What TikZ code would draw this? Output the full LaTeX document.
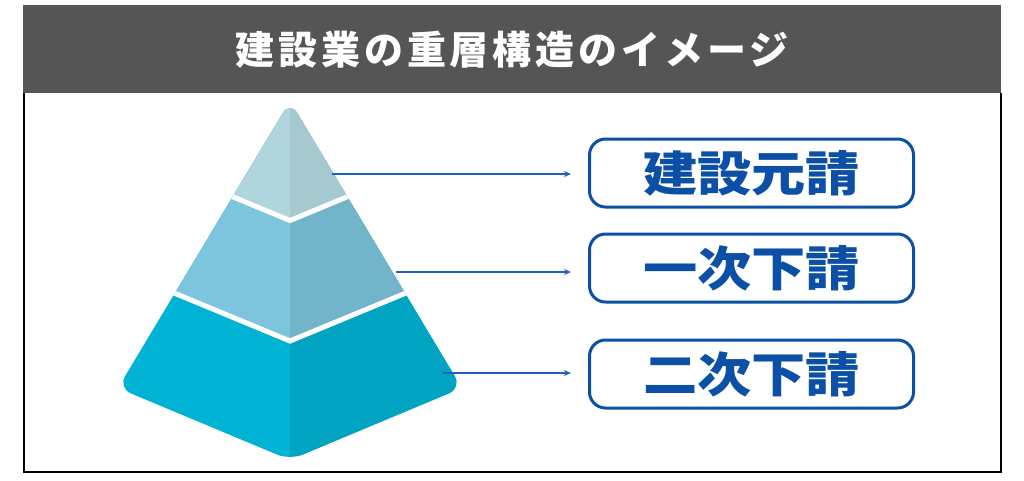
\documentclass[tikz,border=0pt]{standalone}
\usepackage{fontspec}
\newfontfamily\titlefont{Noto Sans CJK JP}[LetterSpace=10]
\newfontfamily\boxfont{Noto Sans CJK JP}[FakeStretch=1.13]
\usetikzlibrary{positioning, arrows.meta}

\definecolor{headgray}{RGB}{85,85,85}
\definecolor{kblue}{RGB}{11,80,166}
\definecolor{lblue}{RGB}{32,96,192}
\definecolor{topl}{RGB}{176,213,220}
\definecolor{topr}{RGB}{166,201,207}
\definecolor{midl}{RGB}{124,197,220}
\definecolor{midr}{RGB}{114,180,202}
\definecolor{botl}{RGB}{0,178,212}
\definecolor{botr}{RGB}{0,163,194}

\begin{document}
\begin{tikzpicture}[%
  x = 1pt, y = -1pt,
  head/.style = {text=white, inner sep=0pt,
                 font=\titlefont\bfseries\fontsize{39pt}{41pt}\selectfont},
  lvl/.style =  {rectangle, rounded corners=16pt, draw=kblue, line width=3pt,
                 minimum width=324pt, minimum height=68pt, inner sep=0pt,
                 text=kblue,
                 font=\boxfont\bfseries\fontsize{48pt}{50pt}\selectfont},
  conn/.style = {draw=lblue, line width=1.5pt,
                 -{Stealth[length=7pt, width=6pt]}}
]
  \useasboundingbox (0,0) rectangle (1024,480);

  % frame and title
  \fill[headgray] (23,5) rectangle (1001,93);
  \draw[black, line width=2pt] (24,93) -- (24,471.5) -- (1000.5,471.5)
                               -- (1000.5,93);
  \node[head] (title) at (512,49.5) {建設業の重層構造のイメージ};

  % pyramid
  \begin{scope}
    \clip[rounded corners=14pt] (290,101) -- (118,388) -- (290,460)
                                -- (462,388) -- cycle;
    \foreach \c/\lc/\rc in {520/botl/botr, 341/midl/midr, 220.5/topl/topr} {
      \fill[\lc] (290,\c) -- (90,{\c-82.8}) -- (90,90) -- (290,90) -- cycle;
      \fill[\rc] (290,\c) -- (490,{\c-82.8}) -- (490,90) -- (290,90) -- cycle;
    }
    \foreach \c in {341, 220.5}
      \draw[white, line width=5pt] (90,{\c-82.8}) -- (290,\c)
                                   -- (490,{\c-82.8});
  \end{scope}

  \coordinate (p1) at (332,174);
  \coordinate (p2) at (396,272);
  \coordinate (p3) at (443,373);

  % levels
  \node[lvl] (b1) at (751.5,173) {建設元請};
  \node[lvl, below=24pt of b1] (b2) {一次下請};
  \node[lvl, below=35pt of b2] (b3) {二次下請};

  % connections
  \foreach \i in {1,2,3} {
    \coordinate (e\i) at ([xshift=-17pt]b\i.west);
    \draw[conn] (p\i) -- (p\i -| e\i);
  }
\end{tikzpicture}
\end{document}
